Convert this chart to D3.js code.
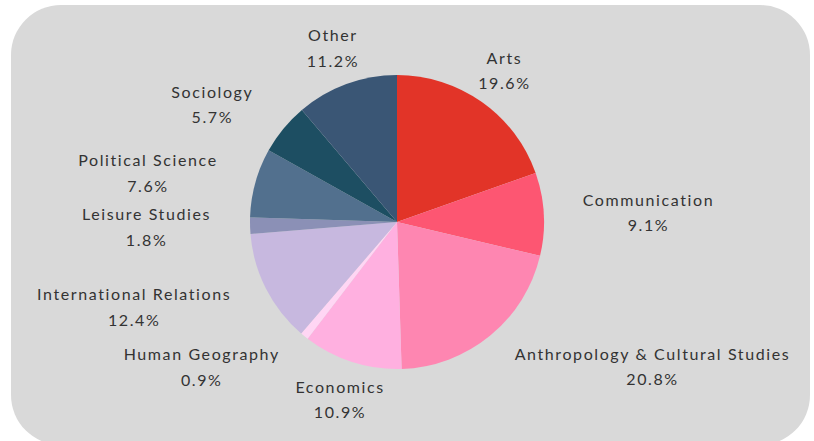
<!DOCTYPE html>
<html>
<head>
<meta charset="utf-8">
<script src="https://cdn.jsdelivr.net/npm/d3@7"></script>
<style>
  body { margin: 0; background: #ffffff; }
  text { font-family: "Lato", sans-serif; font-size: 16px; fill: #333333; letter-spacing: 1.6px; }
</style>
</head>
<body>
<svg id="chart"></svg>
<script>
  const width = 814,
        height = 441,
        radius = 147,
        labelRadius = 186;

  // slices, clockwise from 12 o'clock
  const disciplines = ["Arts", "Communication", "Anthropology & Cultural Studies", "Economics",
                       "Human Geography", "International Relations", "Leisure Studies",
                       "Political Science", "Sociology", "Other"];
  const shares = [19.6, 9.1, 20.8, 10.9, 0.9, 12.4, 1.8, 7.6, 5.7, 11.2];
  const sliceColors = ["#e23428", "#fd5672", "#fe86b1", "#ffb0e0", "#ffd6f4",
                       "#c7b8df", "#8b90b6", "#52708e", "#1d4e62", "#3a5675"];

  let svg = d3.select("#chart")
              .attr("width", width)
              .attr("height", height);

  // grey rounded panel
  svg.append("rect")
     .attr("x", 11)
     .attr("y", 5)
     .attr("width", 799)
     .attr("height", 440)
     .attr("rx", 50)
     .attr("ry", 50)
     .style("fill", "#d9d9d9");

  let chart = svg.append("g")
                 .attr("transform", "translate(397,222)");

  let pie = d3.pie()
              .sort(null)
              .value((d) => { return d; });

  let arc = d3.arc()
              .innerRadius(0)
              .outerRadius(radius);

  let labelArc = d3.arc()
                   .innerRadius(labelRadius)
                   .outerRadius(labelRadius);

  let slices = pie(shares);

  chart.selectAll("path.slice")
       .data(slices)
       .enter()
       .append("path")
       .attr("class", "slice")
       .attr("d", arc)
       .style("fill", (d, i) => { return sliceColors[i]; });

  // label anchors on a ring outside the pie
  let labels = slices.map((d, i) => {
    let mid = (d.startAngle + d.endAngle) / 2,
        c = labelArc.centroid(d),
        s = Math.sin(mid);
    return {
      name: disciplines[i],
      pct: d3.format(".1f")(shares[i]) + "%",
      x: c[0],
      y: c[1],
      align: Math.abs(s) < 0.6 ? "middle" : (s > 0 ? "start" : "end")
    };
  });

  // push overlapping side labels apart (top to bottom)
  ["start", "end"].forEach((align) => {
    let group = labels.filter((l) => l.align === align).sort((a, b) => a.y - b.y);
    for (let k = 1; k < group.length; k++) {
      if (group[k].y - group[k - 1].y < 54) group[k].y = group[k - 1].y + 54;
    }
  });

  let labelText = chart.selectAll("text.label")
                       .data(labels)
                       .enter()
                       .append("text")
                       .attr("class", "label")
                       .attr("text-anchor", "middle");

  labelText.append("tspan")
           .attr("class", "name")
           .attr("x", 0)
           .attr("y", (d) => d.y - 12.8)
           .attr("dominant-baseline", "central")
           .text((d) => d.name);

  labelText.append("tspan")
           .attr("class", "pct")
           .attr("x", 0)
           .attr("y", (d) => d.y + 12.8)
           .attr("dominant-baseline", "central")
           .text((d) => d.pct);

  // centre both lines in a box whose near edge sits on the anchor
  labelText.each(function (d) {
    let spans = d3.select(this).selectAll("tspan"),
        w = d3.max(spans.nodes(), (n) => n.getComputedTextLength()),
        cx = d.align === "start" ? d.x + w / 2 : (d.align === "end" ? d.x - w / 2 : d.x);
    spans.attr("x", cx);
  });
</script>
</body>
</html>
